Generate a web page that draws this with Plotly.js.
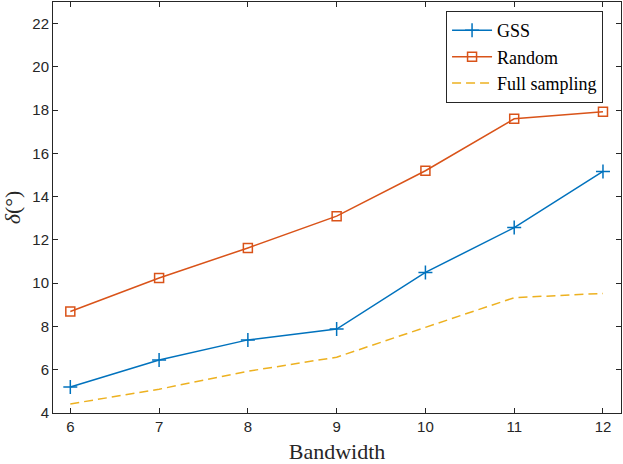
<!DOCTYPE html>
<html>
<head>
<meta charset="utf-8">
<script src="https://cdn.plot.ly/plotly-3.0.1.min.js"></script>
<style>
  html, body { margin: 0; padding: 0; background: #fff; }
  #chart { width: 623px; height: 464px; }
</style>
</head>
<body>
<div id="chart"></div>
<script>
  var bandwidth = [6, 7, 8, 9, 10, 11, 12];
  var gss = [5.2, 6.45, 7.38, 7.88, 10.5, 12.57, 15.17];
  var random = [8.69, 10.24, 11.63, 13.1, 15.2, 17.6, 17.93];
  var fullSampling = [4.42, 5.1, 5.93, 6.58, 7.96, 9.33, 9.53];
  var yTicks = [4, 6, 8, 10, 12, 14, 16, 18, 20, 22];

  var axisColor = '#262626';
  var tickFont = { family: "'Liberation Sans', Arial, sans-serif", size: 15, color: axisColor };
  var serif = "'Liberation Serif', 'Times New Roman', serif";

  var trace1 = {
    x: bandwidth,
    y: gss,
    mode: 'lines+markers',
    name: 'GSS',
    line: { color: '#0072BD', width: 1.5 },
    marker: { symbol: 'cross-thin-open', size: 10, line: { color: '#0072BD', width: 1.5 } }
  };

  var trace2 = {
    x: bandwidth,
    y: random,
    mode: 'lines+markers',
    name: 'Random',
    line: { color: '#D95319', width: 1.5 },
    marker: { symbol: 'square-open', size: 9, color: '#D95319', line: { color: '#D95319', width: 1.5 } }
  };

  var trace3 = {
    x: bandwidth,
    y: fullSampling,
    mode: 'lines',
    name: 'Full sampling',
    line: { color: '#EDB120', width: 1.5, dash: '9px,5px' }
  };

  var layout = {
    width: 623,
    height: 464,
    margin: { l: 53, r: 2, t: 2, b: 51 },
    paper_bgcolor: '#fff',
    plot_bgcolor: '#fff',
    font: { family: serif },
    showlegend: true,
    legend: {
      x: 0.692, y: 0.978, xanchor: 'left', yanchor: 'top',
      bgcolor: '#fff', bordercolor: axisColor, borderwidth: 1,
      font: { family: serif, size: 18, color: '#000' },
      itemwidth: 40,
      tracegroupgap: 0
    },
    xaxis: {
      range: [5.805, 12.203],
      tickvals: bandwidth,
      ticks: 'inside', ticklen: 5, tickcolor: axisColor, tickwidth: 1,
      showline: true, linecolor: axisColor, linewidth: 1, mirror: 'ticks',
      showgrid: false, zeroline: false,
      tickfont: tickFont,
      title: { text: 'Bandwidth', font: { family: serif, size: 22, color: axisColor }, standoff: 13 }
    },
    yaxis: {
      range: [4, 23],
      tickvals: yTicks,
      ticks: 'inside', ticklen: 5, tickcolor: axisColor, tickwidth: 1,
      showline: true, linecolor: axisColor, linewidth: 1, mirror: 'ticks',
      showgrid: false, zeroline: false,
      tickfont: tickFont,
      title: { text: '<i>δ</i>(°)', font: { family: serif, size: 22, color: axisColor }, standoff: 6 }
    }
  };

  Plotly.newPlot('chart', [trace1, trace2, trace3], layout, { displayModeBar: false, staticPlot: true });
</script>
</body>
</html>
